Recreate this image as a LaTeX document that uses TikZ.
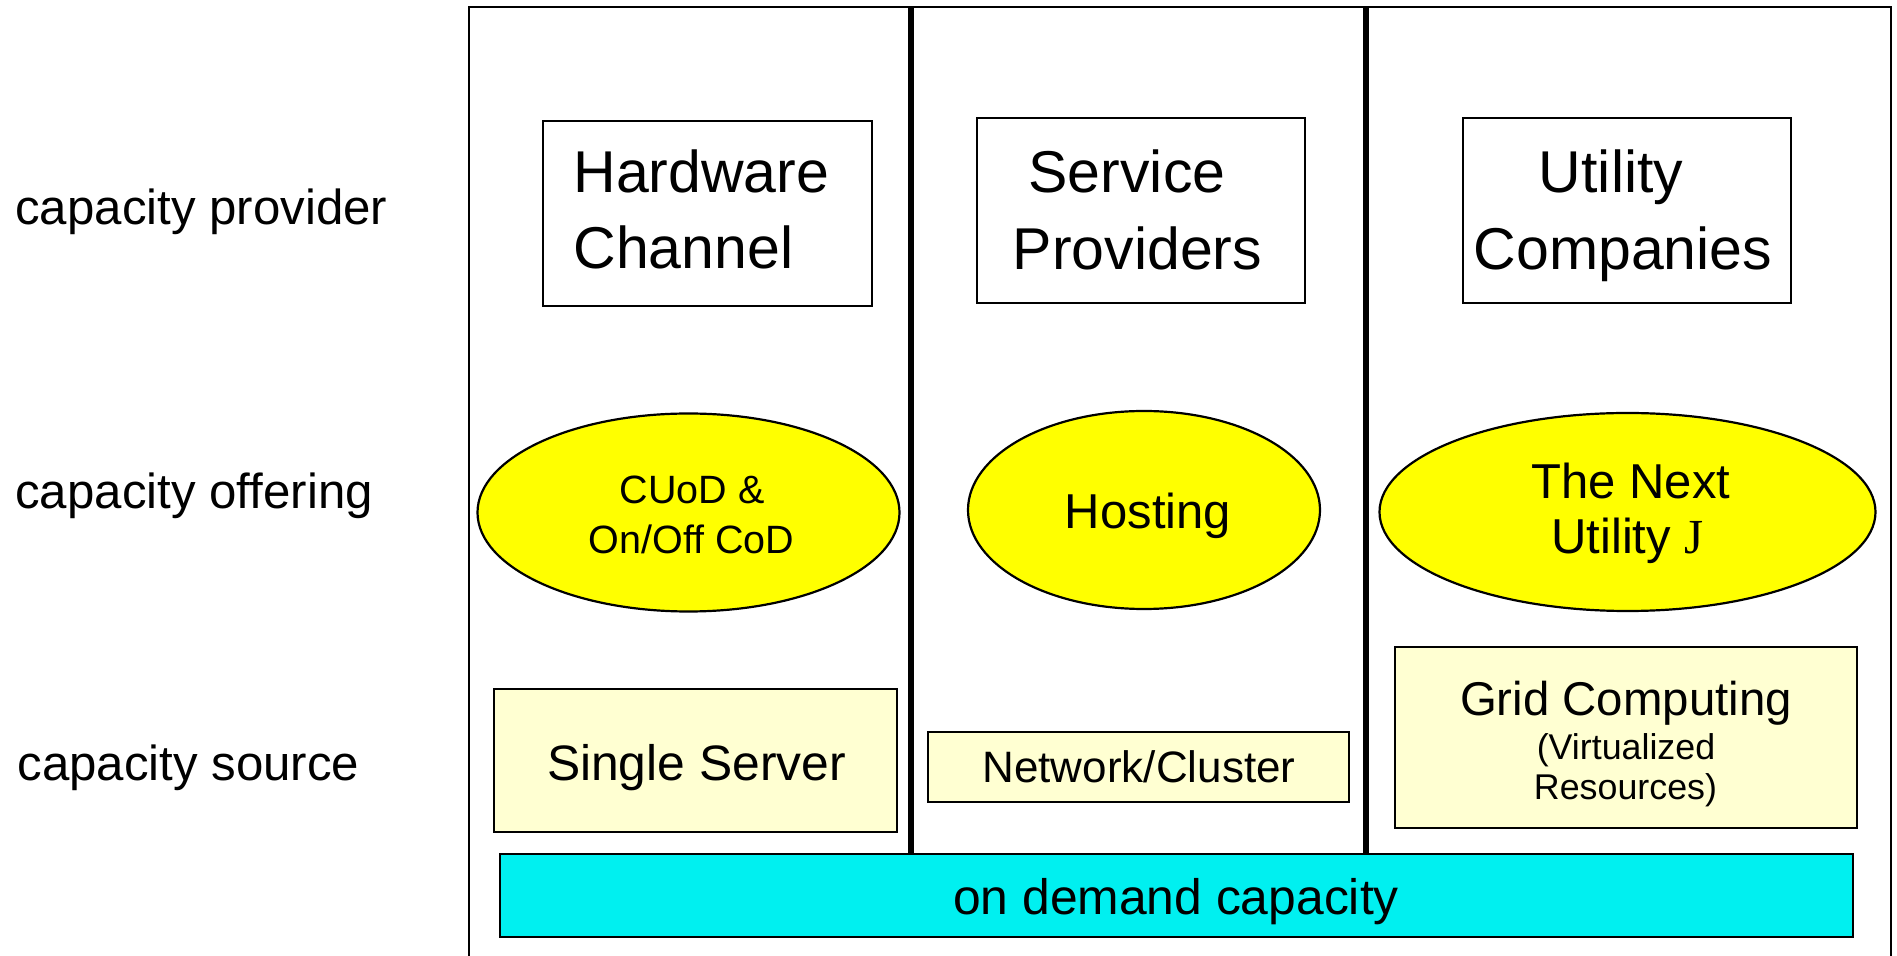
\documentclass[tikz,border=0pt]{standalone}
\usepackage{fontspec}
\setmainfont{Liberation Sans}
\newfontfamily\serifJ{Liberation Serif}
\usetikzlibrary{shapes.geometric}
\definecolor{ovalyellow}{HTML}{FFFF00}
\definecolor{paleyellow}{HTML}{FFFFD2}
\definecolor{barcyan}{HTML}{00F0F0}
\tikzset{
  boxshape/.style={draw=black, line width=1.3pt, inner sep=0pt, rectangle},
  titlebox/.style={boxshape, fill=white},
  srcbox/.style={boxshape, fill=paleyellow},
  oval/.style={draw=black, line width=1.1pt, ellipse, fill=ovalyellow, inner sep=0pt},
  bar/.style={boxshape, fill=barcyan},
  txt/.style={inner sep=0pt, anchor=base, text=black},
  txtl/.style={inner sep=0pt, anchor=base west, text=black},
  divider/.style={line width=3pt},
  frame/.style={line width=0.9pt}
}
\newcommand{\fsz}[1]{\fontsize{#1}{#1}\selectfont}
\begin{document}
\begin{tikzpicture}[x=0.5pt,y=-0.5pt]
\useasboundingbox (0,0) rectangle (1897,956);
% outer frame (bottom edge lies outside the picture)
\coordinate (ftl) at (469,7);
\coordinate (ftr) at (1891,7);
\coordinate (fbl) at (469,970);
\coordinate (fbr) at (1891,970);
\draw[frame] (fbl) -- (ftl) -- (ftr) -- (fbr);
% column dividers
\coordinate (d1t) at (911,7);
\coordinate (d1b) at (911,854);
\coordinate (d2t) at (1366,7);
\coordinate (d2b) at (1366,854);
\draw[divider] (d1t) -- (d1b);
\draw[divider] (d2t) -- (d2b);
% row labels
\node[txtl] (lprov) at (15,225) {\fsz{24.6pt}capacity provider};
\node[txtl] (loffer) at (15,509) {\fsz{24.6pt}capacity offering};
\node[txtl] (lsrc) at (17,781) {\fsz{24.6pt}capacity source};
% provider boxes
\node[titlebox, minimum width=164.5pt, minimum height=92.5pt] (hc) at (707.5,213.5) {};
\node[titlebox, minimum width=164pt, minimum height=92.5pt] (sp) at (1141,210.5) {};
\node[titlebox, minimum width=164pt, minimum height=92.5pt] (uc) at (1627,210.5) {};
\node[txtl] (hc1) at (573,193) {\fsz{29.5pt}Hardware};
\node[txtl] (hc2) at (573,269) {\fsz{29.5pt}Channel};
\node[txt] (sp1) at (1127,193) {\fsz{29.5pt}Service};
\node[txt] (sp2) at (1137.5,270) {\fsz{29.5pt}Providers};
\node[txt] (uc1) at (1611,193) {\fsz{29.5pt}Utility};
\node[txt] (uc2) at (1623,270) {\fsz{29.5pt}Companies};
% offering ovals
\node[oval, minimum width=211pt, minimum height=99pt] (cuod) at (688.5,512.5) {};
\node[oval, minimum width=176pt, minimum height=99pt] (host) at (1144,510) {};
\node[oval, minimum width=248pt, minimum height=99pt] (next) at (1627.5,512) {};
\node[txt] (cuod1) at (692,503.5) {\fsz{19.75pt}CUoD \&};
\node[txt] (cuod2) at (691.5,554) {\fsz{19.75pt}On/Off CoD};
\node[txt] (host1) at (1148,529) {\fsz{24.5pt}Hosting};
\node[txt] (next1) at (1631,499) {\fsz{24.5pt}The Next};
\node[txt] (next2) at (1627.5,554) {\fsz{24.5pt}Utility {\serifJ J}};
% source boxes
\node[srcbox, minimum width=201.5pt, minimum height=71.5pt] (ss) at (695.5,760.5) {};
\node[srcbox, minimum width=210.5pt, minimum height=35pt] (nc) at (1138.5,767) {};
\node[srcbox, minimum width=231pt, minimum height=90.5pt] (gc) at (1626,737.5) {};
\node[txt] (ss1) at (696.5,781) {\fsz{24.9pt}Single Server};
\node[txt] (nc1) at (1139,783) {\fsz{22pt}Network/Cluster};
\node[txt] (gc1) at (1626,715.5) {\fsz{23.7pt}Grid Computing};
\node[txt] (gc2) at (1626,760) {\fsz{17.9pt}(Virtualized};
\node[txt] (gc3) at (1625.5,799) {\fsz{17.9pt}Resources)};
% on demand bar
\node[bar, minimum width=676.5pt, minimum height=41.5pt] (od) at (1176.5,895.5) {};
\node[txt] (od1) at (1176,914) {\fsz{24.9pt}on demand capacity};
\end{tikzpicture}
\end{document}
